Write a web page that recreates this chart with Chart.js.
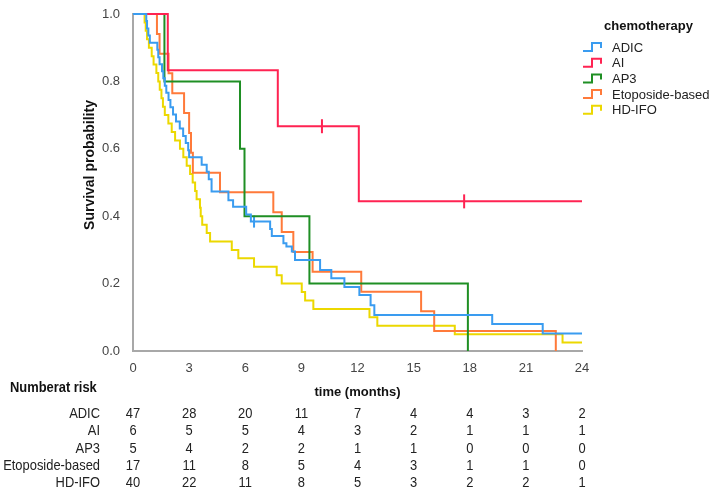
<!DOCTYPE html>
<html>
<head>
<meta charset="utf-8">
<script src="https://cdn.jsdelivr.net/npm/chart.js@4.4.1/dist/chart.umd.min.js"></script>
<style>
  body { margin: 0; background: #fff; }
</style>
</head>
<body>
<canvas id="km" width="718" height="490"></canvas>
<script>
const groups = ['ADIC', 'AI', 'AP3', 'Etoposide-based', 'HD-IFO'];
const colors = ['#3a9cf0', '#ff2352', '#1f8f24', '#ff7a3a', '#ecd800'];
const monthTicks = [0, 3, 6, 9, 12, 15, 18, 21, 24];

// survival curves (time in months, survival probability after the step)
const adicTime = [0, 0.71, 0.75, 0.82, 0.9, 1.3, 1.35, 1.42, 1.55, 1.62, 1.7, 1.78, 1.9, 2.0, 2.14, 2.3, 2.5, 2.68, 2.82, 2.95, 3.0, 3.67, 3.94, 4.05, 4.2, 5.1, 5.35, 6.05, 6.3, 7.33, 7.42, 8.04, 8.2, 8.49, 8.66, 10.0, 10.6, 11.3, 12.1, 12.7, 12.9, 19.2, 21.9, 24];
const adicSurv = [1, 0.979, 0.957, 0.936, 0.915, 0.894, 0.872, 0.851, 0.83, 0.809, 0.787, 0.766, 0.745, 0.723, 0.702, 0.681, 0.66, 0.638, 0.617, 0.596, 0.575, 0.553, 0.532, 0.51, 0.473, 0.447, 0.428, 0.405, 0.384, 0.362, 0.341, 0.32, 0.31, 0.295, 0.27, 0.24, 0.216, 0.19, 0.166, 0.136, 0.107, 0.08, 0.052, 0.052];
const aiTime = [0, 1.86, 7.74, 12.07, 24];
const aiSurv = [1, 0.833, 0.667, 0.444, 0.444];
const ap3Time = [0, 1.68, 5.72, 5.96, 9.43, 17.9];
const ap3Surv = [1, 0.8, 0.6, 0.4, 0.2, 0];
const etoTime = [0, 1.28, 1.42, 1.9, 2.1, 2.73, 3.0, 3.1, 3.2, 4.65, 7.5, 7.95, 8.57, 9.6, 12.2, 15.4, 16.1, 22.6];
const etoSurv = [1, 0.941, 0.882, 0.824, 0.765, 0.706, 0.647, 0.588, 0.529, 0.471, 0.412, 0.353, 0.294, 0.235, 0.176, 0.118, 0.059, 0];
const hdifoTime = [0, 0.62, 0.68, 0.75, 0.85, 1.0, 1.1, 1.25, 1.35, 1.43, 1.52, 1.6, 1.7, 1.89, 2.07, 2.25, 2.51, 2.69, 2.87, 3.05, 3.19, 3.32, 3.4, 3.58, 3.62, 3.7, 3.94, 4.12, 5.28, 5.63, 6.47, 7.68, 7.95, 9.02, 9.2, 9.64, 12.64, 13.06, 17.2, 22.96, 24];
const hdifoSurv = [1, 0.975, 0.95, 0.925, 0.9, 0.875, 0.85, 0.825, 0.8, 0.775, 0.75, 0.725, 0.7, 0.675, 0.65, 0.625, 0.6, 0.575, 0.55, 0.525, 0.5, 0.475, 0.45, 0.425, 0.4, 0.375, 0.35, 0.325, 0.3, 0.275, 0.25, 0.225, 0.2, 0.175, 0.15, 0.125, 0.1, 0.075, 0.05, 0.025, 0.025];

// censored observations
const aiCensTime = [10.1, 17.7];
const aiCensSurv = [0.667, 0.444];
const adicCensTime = [6.47];
const adicCensSurv = [0.384];

// number at risk
const riskAdic = [47, 28, 20, 11, 7, 4, 4, 3, 2];
const riskAi = [6, 5, 5, 4, 3, 2, 1, 1, 1];
const riskAp3 = [5, 4, 2, 2, 1, 1, 0, 0, 0];
const riskEto = [17, 11, 8, 5, 4, 3, 1, 1, 0];
const riskHdifo = [40, 22, 11, 8, 5, 3, 2, 2, 1];

const curves = [[adicTime, adicSurv], [aiTime, aiSurv], [ap3Time, ap3Surv], [etoTime, etoSurv], [hdifoTime, hdifoSurv]];
const riskRows = [riskAdic, riskAi, riskAp3, riskEto, riskHdifo];

const pts = (xs, ys) => xs.map((x, i) => ({x: x, y: ys[i]}));

const datasets = curves.map((c, i) => ({
  label: groups[i],
  data: pts(c[0], c[1]),
  borderColor: colors[i],
  borderWidth: 2,
  stepped: true,
  pointRadius: 0,
  fill: false,
  clip: false
}));
datasets.push({
  label: 'AI censored', type: 'scatter', data: pts(aiCensTime, aiCensSurv),
  pointStyle: 'line', rotation: 90, radius: 7, borderColor: colors[1], borderWidth: 2, clip: false
});
datasets.push({
  label: 'ADIC censored', type: 'scatter', data: pts(adicCensTime, adicCensSurv),
  pointStyle: 'line', rotation: 90, radius: 6, borderColor: colors[0], borderWidth: 2, clip: false
});

const sans = "'Liberation Sans', Arial, sans-serif";

// narrow text, like the condensed font of the original
function narrowText(ctx, txt, x, y, align) {
  ctx.save();
  ctx.translate(x, y);
  ctx.scale(0.86, 1);
  ctx.textAlign = align;
  ctx.fillText(txt, 0, 0);
  ctx.restore();
}

const extras = {
  id: 'extras',
  afterDraw(chart) {
    const ctx = chart.ctx;
    const xs = chart.scales.x;
    ctx.save();
    ctx.textBaseline = 'middle';
    // y axis title (sits a bit above the middle in the original)
    ctx.save();
    ctx.translate(90, 165);
    ctx.rotate(-Math.PI / 2);
    ctx.fillStyle = '#111';
    ctx.font = 'bold 14px ' + sans;
    ctx.textAlign = 'center';
    ctx.fillText('Survival probability', 0, 0);
    ctx.restore();
    // legend
    ctx.fillStyle = '#111';
    ctx.font = 'bold 13px ' + sans;
    ctx.textAlign = 'left';
    ctx.fillText('chemotherapy', 604, 26);
    ctx.font = '13px ' + sans;
    groups.forEach((g, i) => {
      const y = 47 + i * 15.7;
      ctx.strokeStyle = colors[i];
      ctx.lineWidth = 2;
      ctx.beginPath();
      ctx.moveTo(583, y + 4);
      ctx.lineTo(592, y + 4);
      ctx.lineTo(592, y - 4);
      ctx.lineTo(601, y - 4);
      ctx.lineTo(601, y + 1);
      ctx.stroke();
      ctx.fillStyle = '#222';
      ctx.fillText(g, 612, y + 1);
    });
    // number at risk table
    ctx.fillStyle = '#111';
    ctx.font = 'bold 15px ' + sans;
    narrowText(ctx, 'Numberat risk', 10, 388, 'left');
    ctx.font = '15px ' + sans;
    ctx.fillStyle = '#222';
    riskRows.forEach((row, r) => {
      const y = 414 + r * 17.3;
      narrowText(ctx, groups[r], 100, y, 'right');
      row.forEach((v, k) => narrowText(ctx, String(v), xs.getPixelForValue(monthTicks[k]), y, 'center'));
    });
    ctx.restore();
  }
};

new Chart(document.getElementById('km'), {
  type: 'line',
  data: { datasets: datasets },
  options: {
    responsive: false,
    animation: false,
    layout: { padding: { left: 80, top: 14, right: 136, bottom: 90 } },
    plugins: { legend: { display: false }, tooltip: { enabled: false } },
    scales: {
      x: {
        type: 'linear', min: 0, max: 24,
        afterFit: s => { s.height = 49; },
        afterBuildTicks: s => { s.ticks = monthTicks.map(v => ({value: v})); },
        grid: { display: false },
        border: { display: true, color: '#a8a8a8', width: 2 },
        ticks: { color: '#444', padding: 2, font: { family: sans, size: 13 } },
        title: { display: true, text: 'time (months)', color: '#111', padding: { top: 4, bottom: 0 },
                 font: { family: sans, size: 13, weight: 'bold' } }
      },
      y: {
        min: 0, max: 1,
        afterFit: s => { s.width = 53; },
        grid: { display: false },
        border: { display: true, color: '#a8a8a8', width: 2 },
        ticks: { stepSize: 0.2, color: '#444', padding: 5, font: { family: sans, size: 13 },
                 callback: v => v.toFixed(1) },
        title: { display: false }
      }
    }
  },
  plugins: [extras]
});
</script>
</body>
</html>
